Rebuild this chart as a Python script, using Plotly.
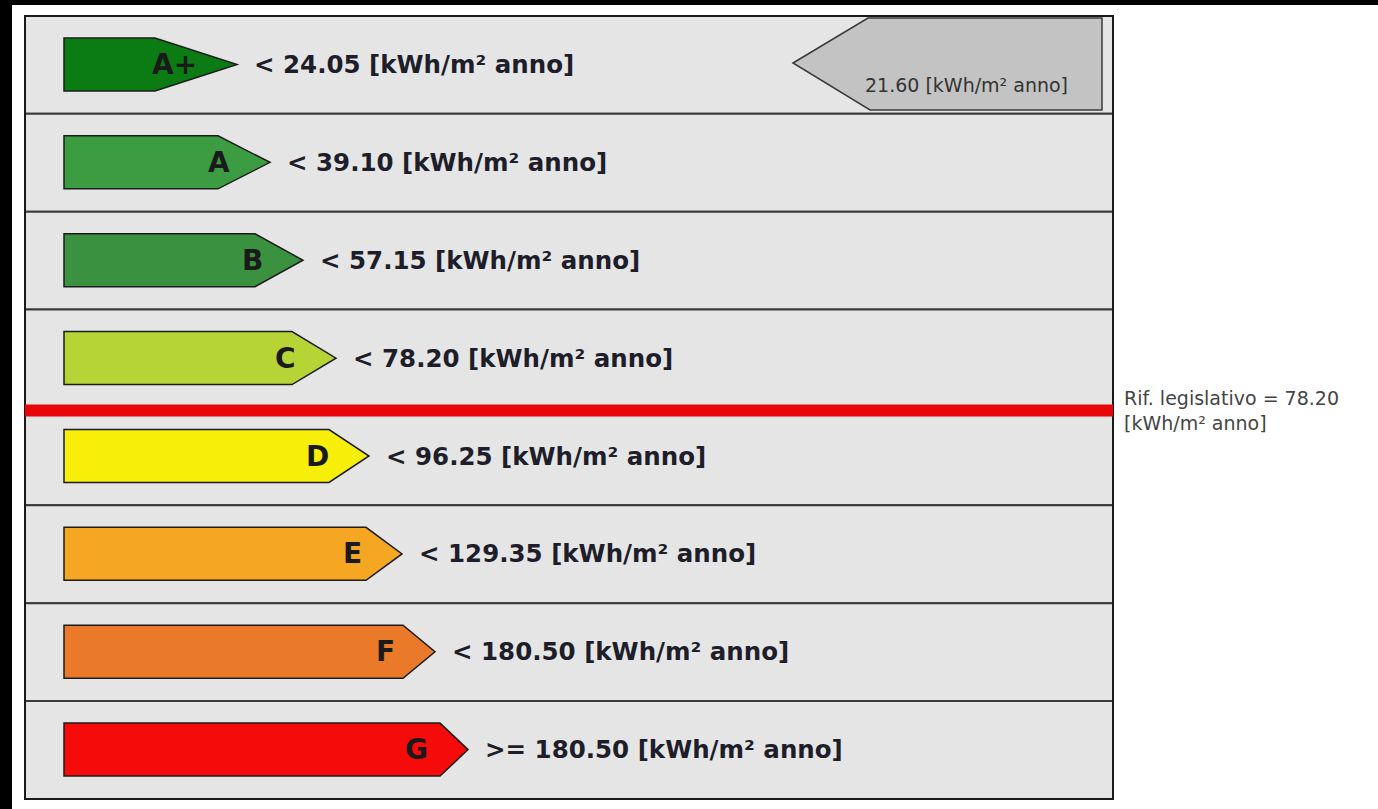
import plotly.graph_objects as go

# ---- data ----
classes = ["A+", "A", "B", "C", "D", "E", "F", "G"]
thresholds = [24.05, 39.10, 57.15, 78.20, 96.25, 129.35, 180.50, 180.50]
operators = ["<", "<", "<", "<", "<", "<", "<", ">="]
class_colors = ["#0b7c14", "#3c9c42", "#3a9240", "#b6d436", "#f7ee0a",
                "#f5a623", "#ea7a2a", "#f60b0b"]
unit = "[kWh/m² anno]"
building_value = 21.60
legislative_ref = 78.20

# ---- layout geometry (pixels) ----
W, H = 1378, 809
TBL_L, TBL_R, TBL_T, TBL_B = 25, 1113, 16, 799
n = len(classes)
row_h = (TBL_B - TBL_T) / n

def px(p):
    """pixel distance -> row units"""
    return p / row_h

shapes = []
annotations = []

# table rows
for i in range(n):
    shapes.append(dict(type="rect", xref="x", yref="y", x0=TBL_L, x1=TBL_R,
                       y0=i, y1=i + 1, fillcolor="#e5e5e5",
                       line=dict(color="#3a3a3a", width=2), layer="below"))
shapes.append(dict(type="rect", xref="x", yref="y", x0=TBL_L, x1=TBL_R,
                   y0=0, y1=n, fillcolor="rgba(0,0,0,0)",
                   line=dict(color="#1a1a1a", width=2)))

# class arrows
for i, (c, thr, op, col) in enumerate(zip(classes, thresholds, operators, class_colors)):
    x0 = 64
    tip = 237 + 33 * i
    tri = 82 if i == 0 else 56 - 4 * i
    xr = tip - tri
    y0 = i + px(22)
    y1 = i + px(75)
    ym = (y0 + y1) / 2
    path = f"M {x0},{y0} L {xr},{y0} L {tip},{ym} L {xr},{y1} L {x0},{y1} Z"
    shapes.append(dict(type="path", xref="x", yref="y", path=path,
                       fillcolor=col, line=dict(color="#1c1c1c", width=1.5)))
    annotations.append(dict(x=tip - 38, y=ym, xref="x", yref="y",
                            text=f"<b>{c}</b>", showarrow=False,
                            xanchor="right", yanchor="middle",
                            font=dict(family="DejaVu Sans", size=28, color="#1a1a1a")))
    annotations.append(dict(x=tip + 15, y=ym, xref="x", yref="y",
                            text=f"<b>{op} {thr:.2f} {unit}</b>", showarrow=False,
                            xanchor="left", yanchor="middle",
                            font=dict(family="DejaVu Sans", size=24.5, color="#1e1e2a")))

# building indicator (grey arrow pointing left)
k = next(i for i, t in enumerate(thresholds) if building_value < t)
gy0 = k + px(2)
gy1 = k + px(94)
gym = k + px(47)
gpath = f"M 793,{gym} L 868,{gy0} L 1102,{gy0} L 1102,{gy1} L 870,{gy1} Z"
shapes.append(dict(type="path", xref="x", yref="y", path=gpath,
                   fillcolor="#c3c3c3", line=dict(color="#3a3a3a", width=1.5)))
annotations.append(dict(x=1070, y=k + px(69), xref="x", yref="y",
                        text=f"{building_value:.2f} {unit}", showarrow=False,
                        xanchor="right", yanchor="middle",
                        font=dict(family="DejaVu Sans", size=19, color="#333333")))

# legislative reference line
r = thresholds.index(legislative_ref) + 1
ly = r + px(3)
shapes.append(dict(type="line", xref="x", yref="y", x0=TBL_L, x1=TBL_R,
                   y0=ly, y1=ly, line=dict(color="#e8060b", width=12)))
annotations.append(dict(x=TBL_R + 9, y=ly, xref="x", yref="y",
                        text=f"Rif. legislativo = {legislative_ref:.2f}<br>{unit}",
                        showarrow=False, xanchor="left", yanchor="middle", align="left",
                        font=dict(family="DejaVu Sans", size=19, color="#444444")))

# black frame strips of the original screenshot
shapes.append(dict(type="rect", xref="paper", yref="paper", x0=0, x1=1,
                   y0=1 - 5 / H, y1=1, fillcolor="black", line=dict(width=0)))
shapes.append(dict(type="rect", xref="paper", yref="paper", x0=0, x1=12 / W,
                   y0=0, y1=1, fillcolor="black", line=dict(width=0)))

fig = go.Figure()
fig.update_layout(
    width=W, height=H,
    margin=dict(l=0, r=0, t=0, b=0),
    paper_bgcolor="white", plot_bgcolor="white",
    xaxis=dict(range=[0, W], visible=False, fixedrange=True),
    yaxis=dict(range=[(H - TBL_T) / row_h, -TBL_T / row_h], visible=False,
               autorange=False, fixedrange=True),
    shapes=shapes, annotations=annotations,
    showlegend=False,
)
fig.write_html("out.html", config={"displayModeBar": False},
               post_script="document.body.style.margin='0';document.body.style.overflow='hidden';")
